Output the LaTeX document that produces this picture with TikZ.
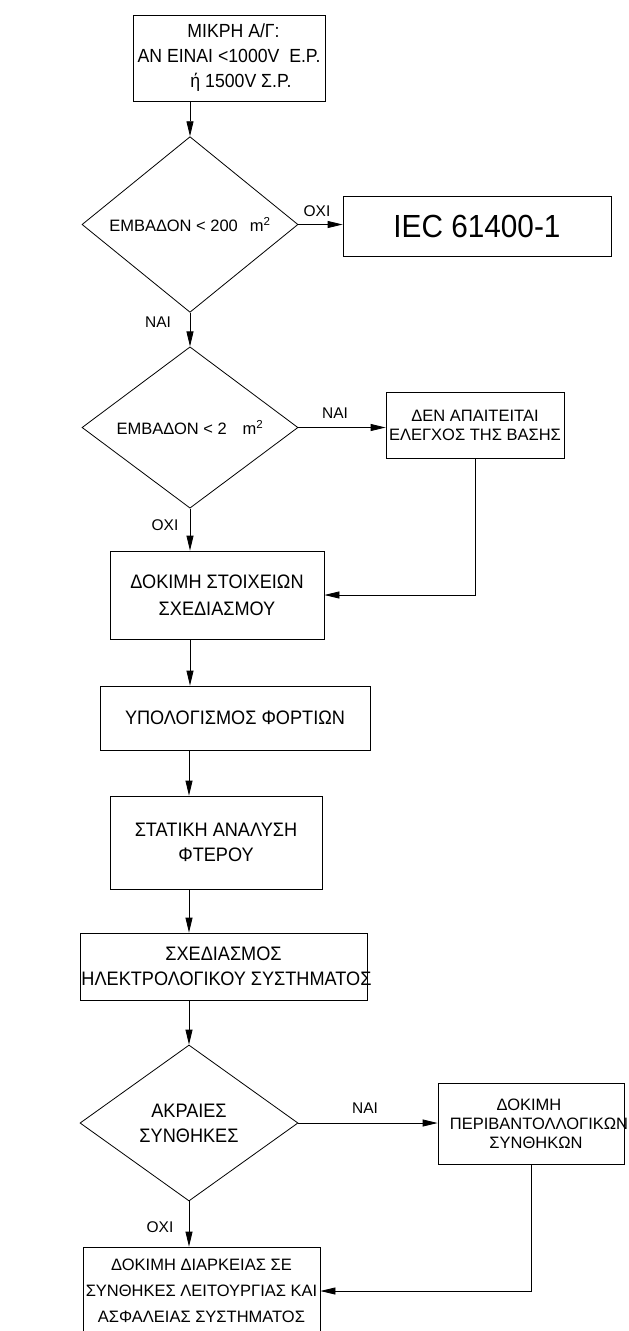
\documentclass[tikz,border=0pt]{standalone}
\usepackage{fontspec}
\setmainfont{Liberation Sans}
\newfontfamily\condf[FakeStretch=0.93]{Liberation Sans}
\usetikzlibrary{shapes.geometric,arrows.meta}
\newcommand{\ovl}[2][0pt]{\makebox[0pt]{\hspace*{#1}#2}}
\begin{document}
\begin{tikzpicture}[x=1pt,y=-1pt,
  box/.style={draw, line width=0.8pt, rectangle, inner sep=0pt, align=center},
  dia/.style={draw, line width=0.8pt, diamond, inner sep=0pt, align=center},
  lbl/.style={font=\fontsize{15.5}{18}\selectfont, inner sep=0pt},
  arr/.style={-{Triangle[length=15pt,width=7pt]}, line width=0.8pt},
  big/.style={font=\condf\fontsize{19.5}{25}\selectfont},
  small/.style={font=\fontsize{16.5}{19}\selectfont}]
\useasboundingbox (0,0) rectangle (629,1331);
\coordinate (ax) at (190,0);
\coordinate (ax2) at (189,0);
% nodes
\node[box,font=\condf\fontsize{19}{25}\selectfont,minimum width=192pt,minimum height=86pt] (b1) at (229,58)
  {\hspace*{9pt}ΜΙΚΡΗ Α/Γ:\\ΑΝ ΕΙΝΑΙ <1000V\ \ Ε.Ρ.\\\hspace*{24pt}ή 1500V Σ.Ρ.};
\node[dia,small,minimum width=216pt,minimum height=157pt] (d1) at (190,224.5)
  {ΕΜΒΑΔΟΝ < 200\hspace{12pt}m\textsuperscript{2}};
\node[box,font=\condf\fontsize{32}{38}\selectfont,minimum width=268pt,minimum height=60pt] (iec) at (477,226) {IEC 61400-1};
\node[lbl] (l1) at (317,211) {ΟΧΙ};
\node[lbl] (l2) at (158,322) {ΝΑΙ};
\node[dia,small,minimum width=216pt,minimum height=157pt] (d2) at (190,427.5)
  {ΕΜΒΑΔΟΝ < 2\hspace{16pt}m\textsuperscript{2}};
\node[lbl] (l3) at (335,413) {ΝΑΙ};
\node[box,small,minimum width=178pt,minimum height=66pt] (b2) at (475,425)
  {ΔΕΝ ΑΠΑΙΤΕΙΤΑΙ\\ΕΛΕΓΧΟΣ ΤΗΣ ΒΑΣΗΣ};
\node[lbl] (l4) at (165,525) {ΟΧΙ};
\node[box,font=\condf\fontsize{19.5}{27}\selectfont,minimum width=214pt,minimum height=88pt] (b3) at (217,595)
  {ΔΟΚΙΜΗ ΣΤΟΙΧΕΙΩΝ\\ΣΧΕΔΙΑΣΜΟΥ};
\node[box,big,minimum width=270pt,minimum height=64pt] (b4) at (235,718)
  {ΥΠΟΛΟΓΙΣΜΟΣ ΦΟΡΤΙΩΝ};
\node[box,big,minimum width=212pt,minimum height=93pt] (b5) at (216,842.5)
  {ΣΤΑΤΙΚΗ ΑΝΑΛΥΣΗ\\ΦΤΕΡΟΥ};
\node[box,big,minimum width=287pt,minimum height=67pt] (b6) at (223.5,966.5)
  {\ovl{ΣΧΕΔΙΑΣΜΟΣ}\\\ovl[6pt]{ΗΛΕΚΤΡΟΛΟΓΙΚΟΥ ΣΥΣΤΗΜΑΤΟΣ}};
\node[dia,font=\condf\fontsize{19.5}{25}\selectfont,minimum width=218pt,minimum height=156pt] (d3) at (189,1123)
  {ΑΚΡΑΙΕΣ\\ΣΥΝΘΗΚΕΣ};
\node[lbl] (l5) at (365,1108) {ΝΑΙ};
\node[box,small,minimum width=186pt,minimum height=81pt] (b7) at (531,1123.5)
  {\ovl[-4pt]{ΔΟΚΙΜΗ}\\\ovl[16pt]{ΠΕΡΙΒΑΝΤΟΛΛΟΓΙΚΩΝ}\\\ovl[10pt]{ΣΥΝΘΗΚΩΝ}};
\node[lbl] (l6) at (160,1227) {ΟΧΙ};
\node[box,font=\fontsize{16.5}{26}\selectfont,minimum width=237pt,minimum height=88pt] (b8) at (201.5,1291)
  {ΔΟΚΙΜΗ ΔΙΑΡΚΕΙΑΣ ΣΕ\\ΣΥΝΘΗΚΕΣ ΛΕΙΤΟΥΡΓΙΑΣ ΚΑΙ\\ΑΣΦΑΛΕΙΑΣ ΣΥΣΤΗΜΑΤΟΣ};
% connectors
\draw[arr] (b1.south -| d1.north) -- (d1.north);
\draw[arr] (d1.east) -- (d1.east -| iec.west);
\draw[arr] (d1.south) -- (d2.north);
\draw[arr] (d2.east) -- (d2.east -| b2.west);
\draw[arr] (d2.south) -- (d2.south |- b3.north);
\draw[arr] (b2.south) -- (b2.south |- b3.east) -- (b3.east);
\draw[arr] (b3.south -| ax) -- (b4.north -| ax);
\draw[arr] (b4.south -| ax2) -- (b5.north -| ax2);
\draw[arr] (b5.south -| ax2) -- (b6.north -| ax2);
\draw[arr] (b6.south -| d3.north) -- (d3.north);
\draw[arr] (d3.east) -- (d3.east -| b7.west);
\draw[arr] (d3.south) -- (d3.south |- b8.north);
\draw[arr] (b7.south) -- (b7.south |- b8.east) -- (b8.east);
\end{tikzpicture}
\end{document}
